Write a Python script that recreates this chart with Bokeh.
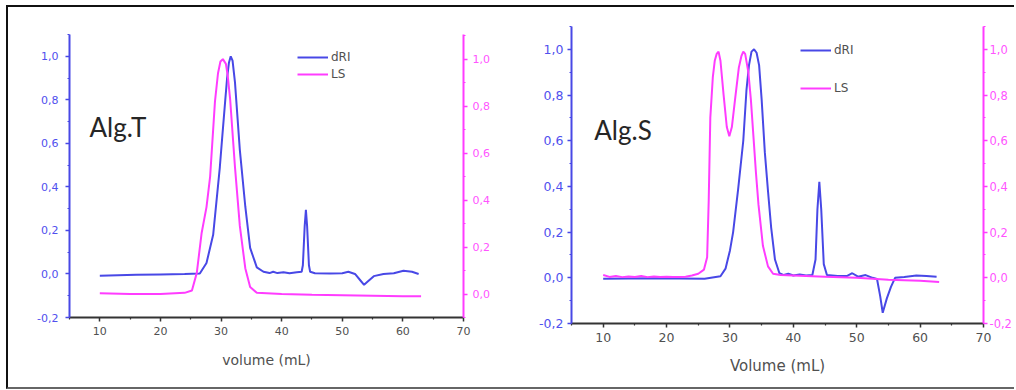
from jinja2 import Template
from bokeh.plotting import figure
from bokeh.models import (Range1d, LinearAxis, FixedTicker, CustomJSTickFormatter,
                          Legend, LegendItem, Label)
from bokeh.embed import file_html
from bokeh.resources import INLINE

# ---------------- data ----------------
x_ticks = [10, 20, 30, 40, 50, 60, 70]
x_minor = [5, 15, 25, 35, 45, 55, 65]
y_ticks = [-0.2, 0.0, 0.2, 0.4, 0.6, 0.8, 1.0]
y_minor = [-0.1, 0.1, 0.3, 0.5, 0.7, 0.9, 1.1]
t_right_ticks = [0.0, 0.2, 0.4, 0.6, 0.8, 1.0]
t_right_minor = [-0.1, 0.1, 0.3, 0.5, 0.7, 0.9, 1.1]
s_right_ticks = [-0.2, 0.0, 0.2, 0.4, 0.6, 0.8, 1.0]

# Alg.T  (dRI on left axis, LS on right axis)
t_dri_x = [10, 13, 16, 20, 24, 26.5, 27.6, 28.7, 29.8, 30.2, 30.7, 31.0, 31.3, 31.6, 31.9,
           32.3, 33.1, 34.0, 34.8, 35.9, 37.0, 38.0, 38.6, 39.3, 40.3, 41.3, 42.5, 43.3,
           43.5, 43.8, 44.0, 44.2, 44.5, 44.7, 45.5, 48.0, 50.0, 51.0, 52.1, 53.0, 53.6,
           54.2, 55.2, 56.8, 58.5, 60.1, 61.5, 62.6]
t_dri_y = [-0.008, -0.006, -0.004, -0.002, 0.0, 0.002, 0.05, 0.18, 0.49, 0.63, 0.8, 0.9, 0.97, 1.0, 0.98,
           0.88, 0.57, 0.31, 0.12, 0.03, 0.01, 0.004, 0.01, 0.004, 0.008, 0.003, 0.008, 0.01,
           0.04, 0.22, 0.295, 0.22, 0.04, 0.01, 0.003, 0.002, 0.003, 0.01, 0.0, -0.03, -0.05,
           -0.035, -0.01, 0.0, 0.003, 0.015, 0.01, 0.0]
t_ls_x = [10, 15, 20, 24, 25.2, 26.0, 26.8, 27.6, 28.2, 29.0, 29.5, 29.9, 30.3, 30.8, 31.1,
          31.5, 32.3, 33.1, 34.0, 34.8, 35.9, 40, 45, 50, 55, 60, 63]
t_ls_y = [0.003, 0.0, 0.0, 0.005, 0.015, 0.09, 0.26, 0.37, 0.5, 0.82, 0.94, 0.99, 1.0, 0.98, 0.93,
          0.83, 0.54, 0.29, 0.11, 0.03, 0.005, 0.0, -0.003, -0.005, -0.007, -0.01, -0.01]

# Alg.S
s_dri_x = [10, 14, 18, 22, 26, 28.5, 29.3, 30.0, 30.5, 31.3, 32.1, 32.6, 33.0, 33.4, 33.8,
           34.2, 34.6, 35.0, 35.5, 36.0, 36.5, 37.1, 37.8, 38.5, 39.2, 40.0, 41.0, 42.0,
           43.0, 43.5, 43.8, 44.1, 44.4, 44.8, 45.3, 47.0, 48.5, 49.3, 50.2, 51.4, 52.5,
           53.2, 53.7, 54.1, 54.75, 55.4, 56.05, 57.5, 59.4, 61.0, 62.6]
s_dri_y = [-0.004, -0.003, -0.002, -0.003, -0.004, 0.007, 0.04, 0.12, 0.2, 0.39, 0.6, 0.82, 0.93, 0.99, 1.0,
           0.985, 0.93, 0.78, 0.55, 0.38, 0.22, 0.08, 0.02, 0.012, 0.018, 0.01, 0.015, 0.01,
           0.012, 0.08, 0.3, 0.42, 0.3, 0.06, 0.012, 0.008, 0.008, 0.02, 0.005, 0.012, 0.0,
           -0.005, -0.08, -0.153, -0.09, -0.04, 0.0, 0.004, 0.01, 0.008, 0.005]
s_ls_x = [10, 11, 12, 13, 14, 15, 16, 17, 18, 19, 20, 21, 22, 23, 24, 25.0, 25.9, 26.4,
          26.65, 26.9, 27.3, 27.6, 27.9, 28.2, 28.5, 29.0, 29.5, 29.9, 30.3, 30.8, 31.4, 31.8,
          32.1, 32.4, 32.9, 33.3, 33.7, 34.1, 34.5, 35.2, 36.0, 36.8, 38, 40, 45, 50, 55, 60, 63]
s_ls_y = [0.012, 0.004, 0.008, 0.003, 0.006, 0.004, 0.008, 0.003, 0.006, 0.004, 0.005, 0.003,
          0.004, 0.005, 0.01, 0.018, 0.036, 0.09, 0.34, 0.7, 0.88, 0.95, 0.98, 0.99, 0.95, 0.8,
          0.66, 0.62, 0.66, 0.78, 0.92, 0.97, 0.99, 0.98, 0.9, 0.78, 0.62, 0.46, 0.32, 0.14,
          0.05, 0.018, 0.012, 0.01, 0.005, 0.0, -0.008, -0.013, -0.018]

BLUE = "#4848e6"
MAG = "#ff3cff"
AXC = "#333333"
FONT = "DejaVu Sans"

comma_fmt = CustomJSTickFormatter(code="""
    if (Math.abs(tick) < 1e-9) { return '0,0'; }
    return tick.toFixed(1).replace('.', ',');
""")


def style_axis(ax, color, label_color, size, standoff):
    ax.axis_line_color = color
    ax.axis_line_width = 2
    ax.major_tick_line_color = color
    ax.minor_tick_line_color = color
    ax.major_tick_line_width = 1.5
    ax.minor_tick_line_width = 1.2
    ax.major_tick_out = 4
    ax.major_tick_in = 0
    ax.minor_tick_out = 2
    ax.minor_tick_in = 0
    ax.major_label_text_color = label_color
    ax.major_label_text_font = FONT
    ax.major_label_text_font_size = size
    ax.major_label_standoff = standoff


def make_panel(dri_x, dri_y, ls_x, ls_y, ls_range, right_ticks, right_minor, name, name_xy,
               xlabel, width, height, borders, legend_loc, legend_spacing, tick_size,
               right_size, xlab_size, xlab_standoff, left_standoff, right_standoff, pname):
    bl, br, bt, bb = borders
    p = figure(width=width, height=height, x_range=Range1d(5, 70), y_range=Range1d(-0.2, 1.1),
               output_backend="svg", toolbar_location=None, name=pname,
               min_border_left=bl, min_border_right=br, min_border_top=bt, min_border_bottom=bb)
    p.outline_line_color = None
    p.xgrid.visible = False
    p.ygrid.visible = False
    p.background_fill_color = "white"
    p.border_fill_color = "white"
    p.extra_y_ranges = {"ls": Range1d(*ls_range)}

    r1 = p.line(dri_x, dri_y, line_color=BLUE, line_width=2)
    r2 = p.line(ls_x, ls_y, line_color=MAG, line_width=2, y_range_name="ls")

    # bottom axis
    xa = p.xaxis[0]
    xa.ticker = FixedTicker(ticks=x_ticks, minor_ticks=x_minor)
    style_axis(xa, AXC, "#505050", tick_size, 5)
    xa.axis_label = xlabel
    xa.axis_label_text_font = FONT
    xa.axis_label_text_font_style = "normal"
    xa.axis_label_text_font_size = xlab_size
    xa.axis_label_text_color = "#505050"
    xa.axis_label_standoff = xlab_standoff

    # left axis
    ya = p.yaxis[0]
    ya.ticker = FixedTicker(ticks=y_ticks, minor_ticks=y_minor)
    ya.formatter = comma_fmt
    style_axis(ya, BLUE, "#5050ee", tick_size, left_standoff)

    # right axis
    ra = LinearAxis(y_range_name="ls",
                    ticker=FixedTicker(ticks=right_ticks, minor_ticks=right_minor))
    style_axis(ra, MAG, "#ff55ff", right_size, right_standoff)
    ra.formatter = comma_fmt
    p.add_layout(ra, "right")

    legend = Legend(items=[LegendItem(label="dRI", renderers=[r1]),
                           LegendItem(label="LS", renderers=[r2])],
                    location=legend_loc, padding=0, margin=0, spacing=legend_spacing,
                    glyph_width=31, glyph_height=16, label_height=16, label_standoff=3,
                    border_line_color=None, background_fill_alpha=0,
                    label_text_font=FONT, label_text_font_size="12px",
                    label_text_color="#505050")
    p.add_layout(legend)

    p.add_layout(Label(x=name_xy[0], y=name_xy[1], text=name, text_font="Lato",
                       text_font_size="26px", text_color="#262626",
                       text_baseline="middle", text_align="left"))
    return p


# canvas top at y=7, left at x=8 (page coordinates)
p1 = make_panel(t_dri_x, t_dri_y, t_ls_x, t_ls_y, (-0.1, 1.105), t_right_ticks, t_right_minor,
                "Alg.T", (8.3, 0.675), "volume (mL)", 497, 380, (61, 42, 27, 70),
                (228, 235), 1, "11px", "11px", "14px", 14, 7, 5, "p1")
p2 = make_panel(s_dri_x, s_dri_y, s_ls_x, s_ls_y, (-0.2, 1.1), s_right_ticks, y_minor,
                "Alg.S", (8.6, 0.645), "Volume (mL)", 509, 380, (66, 28, 19, 64),
                (229, 227), 22, "12.5px", "11.5px", "15px", 12, 4, 2, "p2")

template = Template("""<!DOCTYPE html>
<html lang="en">
<head>
<meta charset="utf-8">
<title>{{ title if title else "SEC" }}</title>
{{ bokeh_css }}
{{ bokeh_js }}
<style>
html, body { margin: 0; padding: 0; background: white; overflow: hidden; }
.frame { display: flex; flex-direction: row; align-items: flex-start;
         margin: 5px 0 0 6px; border-top: 2px solid #111111;
         border-left: 2px solid #111111; border-bottom: 2px solid #666666;
         width: 1006px; }
</style>
</head>
<body>
<div class="frame">
{{ plot_div }}
</div>
{{ plot_script }}
</body>
</html>
""")

html = file_html([p1, p2], INLINE, title="SEC-MALS", template=template)
open("out.html", "w").write(html)
